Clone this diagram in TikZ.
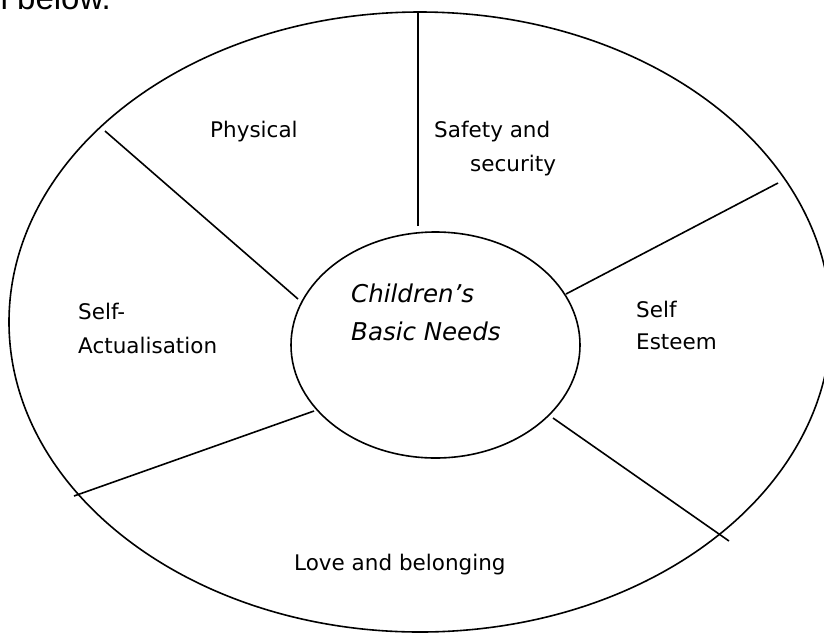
\documentclass[tikz,border=0pt]{standalone}
\usepackage{fontspec}
\setmainfont{DejaVu Sans}
\newfontfamily\docfont{Liberation Sans}
\usetikzlibrary{shapes.geometric}
\tikzset{
  ring/.style={draw, ellipse, line width=1.6pt, inner sep=0pt, outer sep=0pt},
  spoke/.style={line width=1.6pt},
  lbl/.style={anchor=base west, inner sep=0pt, font=\fontsize{21.5}{26}\selectfont},
  hubtext/.style={anchor=base west, inner sep=0pt, font=\fontsize{24.5}{30}\selectfont\itshape}
}
\begin{document}
\begin{tikzpicture}[x=1pt,y=-1pt]
\useasboundingbox (0,0) rectangle (824,633);
\clip (0,0) rectangle (824,633);
% cut-off document text
\node[anchor=base east, inner sep=0pt, font=\docfont\fontsize{33}{40}\selectfont] (doc) at (111,9) {n below.};
% rings
\node[ring, minimum width=822pt, minimum height=620pt] (outer) at (420,322) {};
\node[ring, minimum width=289pt, minimum height=226pt] (hub) at (435.5,345) {};
% spoke ends
\coordinate (s1i) at (418,226); \coordinate (s1o) at (418,11);
\coordinate (s2i) at (298,299); \coordinate (s2o) at (105,131);
\coordinate (s3i) at (566,294); \coordinate (s3o) at (778,183);
\coordinate (s4i) at (314,411); \coordinate (s4o) at (74,496);
\coordinate (s5i) at (553,418); \coordinate (s5o) at (729,541);
\draw[spoke] (s1i) -- (s1o);
\draw[spoke] (s2i) -- (s2o);
\draw[spoke] (s3i) -- (s3o);
\draw[spoke] (s4i) -- (s4o);
\draw[spoke] (s5i) -- (s5o);
% hub text
\node[hubtext] (hub1) at (351,302) {Children’s};
\node[hubtext] (hub2) at (351,340) {Basic Needs};
% labels
\node[lbl] (phys) at (210,137) {Physical};
\node[lbl] (safe1) at (434,137) {Safety and};
\node[lbl] (safe2) at (470,171.5) {security};
\node[lbl] (act1) at (78,319) {Self-};
\node[lbl] (act2) at (78,353) {Actualisation};
\node[lbl] (est1) at (636,317) {Self};
\node[lbl] (est2) at (636,349) {Esteem};
\node[lbl] (love) at (294,570) {Love and belonging};
\end{tikzpicture}
\end{document}
